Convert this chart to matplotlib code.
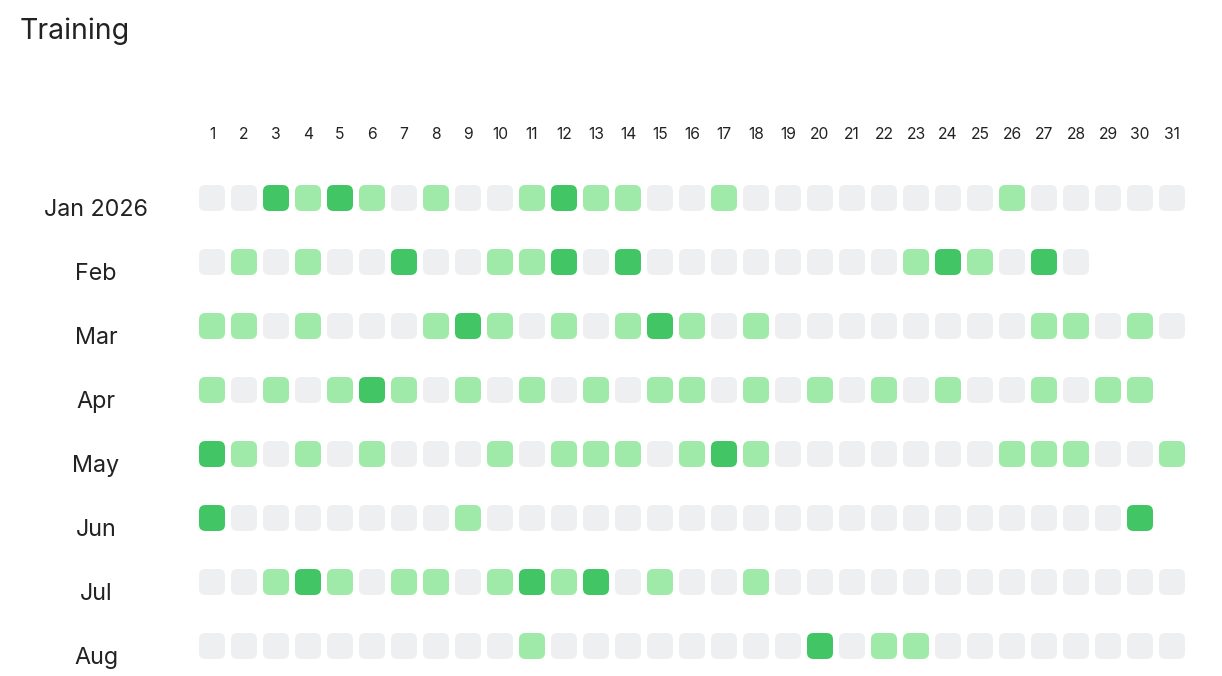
import numpy as np
import matplotlib
matplotlib.use("Agg")
import matplotlib.pyplot as plt
from matplotlib.patches import FancyBboxPatch
import matplotlib.transforms as mtransforms

plt.rcParams['font.family'] = ['Inter', 'DejaVu Sans']

# 0 = no training, 1 = light, 2 = heavy
months = ['Jan 2026', 'Feb', 'Mar', 'Apr', 'May', 'Jun', 'Jul', 'Aug']
days = list(range(1, 32))

jan = [0, 0, 2, 1, 2, 1, 0, 1, 0, 0, 1, 2, 1, 1, 0, 0, 1, 0, 0, 0, 0, 0, 0, 0, 0, 1, 0, 0, 0, 0, 0]
feb = [0, 1, 0, 1, 0, 0, 2, 0, 0, 1, 1, 2, 0, 2, 0, 0, 0, 0, 0, 0, 0, 0, 1, 2, 1, 0, 2, 0]
mar = [1, 1, 0, 1, 0, 0, 0, 1, 2, 1, 0, 1, 0, 1, 2, 1, 0, 1, 0, 0, 0, 0, 0, 0, 0, 0, 1, 1, 0, 1, 0]
apr = [1, 0, 1, 0, 1, 2, 1, 0, 1, 0, 1, 0, 1, 0, 1, 1, 0, 1, 0, 1, 0, 1, 0, 1, 0, 0, 1, 0, 1, 1]
may = [2, 1, 0, 1, 0, 1, 0, 0, 0, 1, 0, 1, 1, 1, 0, 1, 2, 1, 0, 0, 0, 0, 0, 0, 0, 1, 1, 1, 0, 0, 1]
jun = [2, 0, 0, 0, 0, 0, 0, 0, 1, 0, 0, 0, 0, 0, 0, 0, 0, 0, 0, 0, 0, 0, 0, 0, 0, 0, 0, 0, 0, 2]
jul = [0, 0, 1, 2, 1, 0, 1, 1, 0, 1, 2, 1, 2, 0, 1, 0, 0, 1, 0, 0, 0, 0, 0, 0, 0, 0, 0, 0, 0, 0, 0]
aug = [0, 0, 0, 0, 0, 0, 0, 0, 0, 0, 1, 0, 0, 0, 0, 0, 0, 0, 0, 2, 0, 1, 1, 0, 0, 0, 0, 0, 0, 0, 0]
rows = [jan, feb, mar, apr, may, jun, jul, aug]

colors = {0: '#eeeff1', 1: '#9feaa9', 2: '#42c564'}
text_color = '#222222'

W, H = 1222, 676
fig = plt.figure(figsize=(W / 100, H / 100), dpi=100)
fig.patch.set_facecolor('white')

# axes: one x unit = 32 px, one y unit = 64 px
ax = fig.add_axes([196 / W, (H - 674.8) / H, 992 / W, (674.8 - 166) / H])
ax.set_xlim(0.5, 31.5)
ax.set_ylim(7.45, -0.5)
ax.axis('off')

cw = 26 / 32   # cell width in x units
ch = 26 / 64   # cell height in y units
for r, vals in enumerate(rows):
    for d, v in enumerate(vals, start=1):
        p = FancyBboxPatch((d - cw / 2, r - ch / 2), cw, ch,
                           boxstyle='round,pad=0,rounding_size=0.2',
                           mutation_aspect=0.5,
                           facecolor=colors[v], edgecolor='none')
        ax.add_patch(p)

# day header
tr_head = mtransforms.blended_transform_factory(ax.transData, fig.transFigure)
for d in days:
    ax.text(d, 1 - 134.5 / H, str(d), transform=tr_head, ha='center', va='center',
            fontsize=11.3, color=text_color)

# month labels
tr_row = mtransforms.blended_transform_factory(fig.transFigure, ax.transData)
for r, m in enumerate(months):
    ax.text(96 / W, r + 0.19, m, transform=tr_row, ha='center', va='center',
            fontsize=16.8, color=text_color)

fig.text(20 / W, 1 - 39 / H, 'Training', ha='left', va='baseline',
         fontsize=20.5, color=text_color)

fig.savefig('out.png', dpi=100, facecolor='white')
